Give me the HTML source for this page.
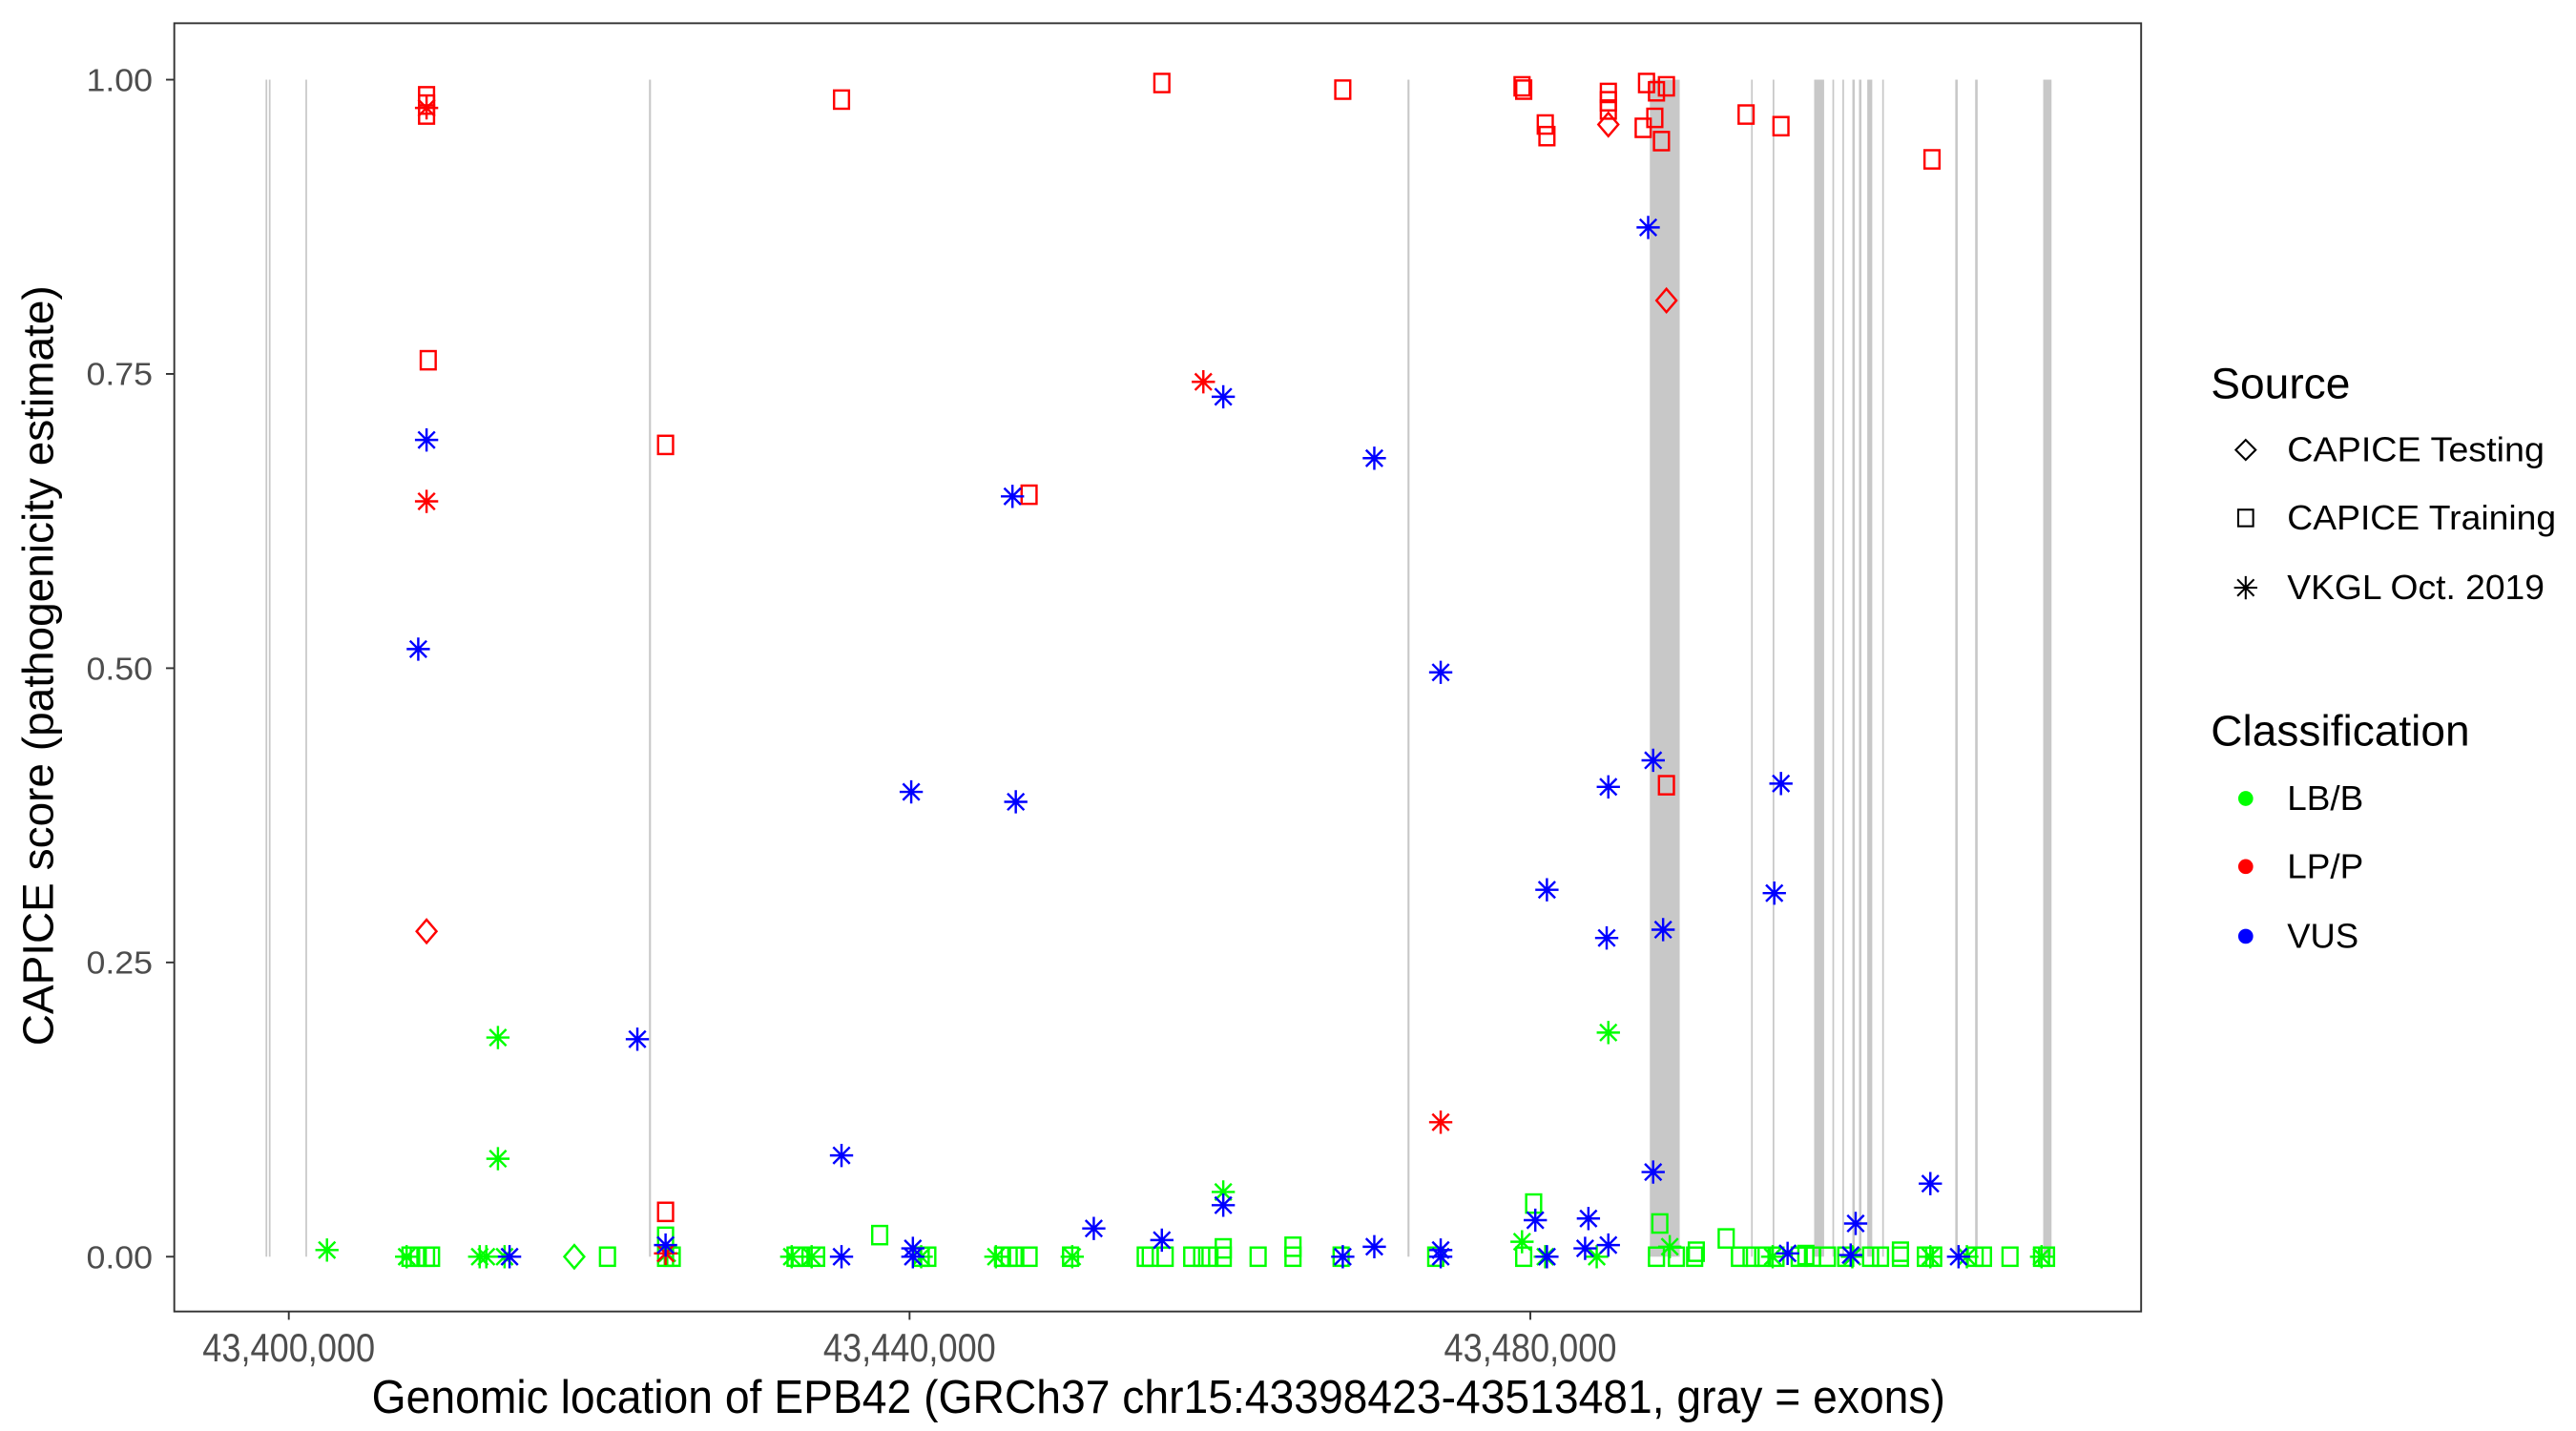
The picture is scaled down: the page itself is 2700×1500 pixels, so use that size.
<!DOCTYPE html>
<html><head><meta charset="utf-8"><style>html,body{margin:0;padding:0;background:#fff}svg{display:block}</style></head>
<body>
<svg id="s" width="2700" height="1500" viewBox="0 0 1552 862" preserveAspectRatio="none" xmlns="http://www.w3.org/2000/svg" font-family="Liberation Sans, Arial, sans-serif">
<rect x="0" y="0" width="1552" height="862" fill="#fff"/>
<g id="ex"></g>
<g id="pts"></g>
<rect x="105" y="14" width="1185" height="776" fill="none" stroke="#333" stroke-width="1.1"/>
<g stroke="#333" stroke-width="1.1">
<line x1="100" x2="105" y1="48" y2="48"/><line x1="100" x2="105" y1="225.25" y2="225.25"/><line x1="100" x2="105" y1="402.5" y2="402.5"/><line x1="100" x2="105" y1="579.75" y2="579.75"/><line x1="100" x2="105" y1="757" y2="757"/>
<line x1="174" x2="174" y1="790" y2="795"/><line x1="548" x2="548" y1="790" y2="795"/><line x1="922" x2="922" y1="790" y2="795"/>
</g>
<g fill="#4d4d4d" font-size="19" lengthAdjust="spacingAndGlyphs">
<text x="52" y="55" textLength="40" lengthAdjust="spacingAndGlyphs">1.00</text>
<text x="52" y="232" textLength="40" lengthAdjust="spacingAndGlyphs">0.75</text>
<text x="52" y="409.5" textLength="40" lengthAdjust="spacingAndGlyphs">0.50</text>
<text x="52" y="586.5" textLength="40" lengthAdjust="spacingAndGlyphs">0.25</text>
<text x="52" y="764" textLength="40" lengthAdjust="spacingAndGlyphs">0.00</text>
</g>
<g fill="#4d4d4d" font-size="24">
<text x="122" y="820" textLength="104" lengthAdjust="spacingAndGlyphs">43,400,000</text>
<text x="496" y="820" textLength="104" lengthAdjust="spacingAndGlyphs">43,440,000</text>
<text x="870" y="820" textLength="104" lengthAdjust="spacingAndGlyphs">43,480,000</text>
</g>
<text x="224" y="851" font-size="28" fill="#000" textLength="948" lengthAdjust="spacingAndGlyphs">Genomic location of EPB42 (GRCh37 chr15:43398423-43513481, gray = exons)</text>
<text transform="translate(32,401) rotate(-90)" x="-229" y="0" font-size="26" fill="#000" textLength="458" lengthAdjust="spacingAndGlyphs">CAPICE score (pathogenicity estimate)</text>
<text x="1332" y="240" font-size="26" fill="#000" textLength="84" lengthAdjust="spacingAndGlyphs">Source</text>
<g fill="none" stroke="#000" stroke-width="1.2">
<path d="M1353 265 L1359 271 L1353 277 L1347 271 Z"/>
<rect x="1348.5" y="307" width="9" height="10"/>
<path d="M1353 347 V361 M1346 354 H1360 M1348 349 L1358 359 M1358 349 L1348 359"/>
</g>
<g font-size="21" fill="#000">
<text x="1378" y="278" textLength="155" lengthAdjust="spacingAndGlyphs">CAPICE Testing</text>
<text x="1378" y="319" textLength="162" lengthAdjust="spacingAndGlyphs">CAPICE Training</text>
<text x="1378" y="361" textLength="155" lengthAdjust="spacingAndGlyphs">VKGL Oct. 2019</text>
</g>
<text x="1332" y="449" font-size="26" fill="#000" textLength="156" lengthAdjust="spacingAndGlyphs">Classification</text>
<circle cx="1353" cy="481" r="4.5" fill="#00ff00"/><circle cx="1353" cy="522" r="4.5" fill="#ff0000"/><circle cx="1353" cy="564" r="4.5" fill="#0000ff"/>
<g font-size="21" fill="#000">
<text x="1378" y="488" textLength="46" lengthAdjust="spacingAndGlyphs">LB/B</text>
<text x="1378" y="529" textLength="46" lengthAdjust="spacingAndGlyphs">LP/P</text>
<text x="1378" y="571" textLength="43" lengthAdjust="spacingAndGlyphs">VUS</text>
</g>
</svg>
<script>
var NS="http://www.w3.org/2000/svg";
function el(p,t,a){var e=document.createElementNS(NS,t);for(var k in a)e.setAttribute(k,a[k]);p.appendChild(e);return e;}
var ex=document.getElementById("ex");
[[160,1],[162,1],[184,1],[391,1.2],[848,1.2],[994,18],[1055,1],[1068,1],[1093,6],[1104,1],[1110,1],[1116,1.5],[1120,1.5],[1125,3],[1134,1],[1178,1.5],[1190,1.5],[1231,5]].forEach(function(e){
 el(ex,"rect",{x:e[0],y:48,width:e[1],height:709,fill:"#c8c8c8"});});
var P=document.getElementById("pts");
var C={g:"#00ff00",r:"#ff0000",b:"#0000ff"};
function sq(x,y,c){el(P,"rect",{x:x-4.5,y:y-5.5,width:9,height:11,fill:"none",stroke:C[c],"stroke-width":1.4});}
function di(x,y,c){el(P,"path",{d:"M"+x+" "+(y-7)+" L"+(x+6)+" "+y+" L"+x+" "+(y+7)+" L"+(x-6)+" "+y+"Z",fill:"none",stroke:C[c],"stroke-width":1.4});}
function st(x,y,c){var r=7,d=5;el(P,"path",{d:"M"+x+" "+(y-r)+"V"+(y+r)+"M"+(x-r)+" "+y+"H"+(x+r)+"M"+(x-d)+" "+(y-d)+"L"+(x+d)+" "+(y+d)+"M"+(x+d)+" "+(y-d)+"L"+(x-d)+" "+(y+d),fill:"none",stroke:C[c],"stroke-width":1.4});}
[247,252,257,260,366,401,405,479,482,492,555,559,604,608,612,620,645,690,693,702,718,724,729,737,758,779,808,865,918,998,1010,1021,1048,1055,1062,1070,1084,1092,1101,1112,1127,1133,1145,1160,1165,1190,1195,1211,1230,1233].forEach(function(x){sq(x,757,"g");});
[[530,744],[737,752],[779,751],[924,725],[1000,737],[1040,746],[1145,754],[1022,754],[401,745],[1088,756]].forEach(function(p){sq(p[0],p[1],"g");});
di(346,757,"g");
[[197,753],[245,757],[289,757],[293,757],[300,625],[300,698],[304,757],[402,755],[477,757],[489,757],[555,757],[600,757],[646,757],[737,718],[917,748],[931,757],[962,757],[969,622],[1006,751],[1068,757],[1116,757],[1163,757],[1185,757],[1230,757]].forEach(function(p){st(p[0],p[1],"g");});
[[257,58],[257,63],[257,69],[258,217],[401,268],[401,730],[507,60],[620,298],[700,50],[809,54],[917,52],[918,54],[931,75],[932,82],[969,56],[969,61],[969,66],[992,50],[997,71],[998,55],[1001,85],[1004,52],[1004,473],[1052,69],[1073,76],[1164,96],[990,77]].forEach(function(p){sq(p[0],p[1],"r");});
[[257,561],[969,75],[1004,181]].forEach(function(p){di(p[0],p[1],"r");});
[[257,65],[257,302],[725,230],[868,676],[401,755]].forEach(function(p){st(p[0],p[1],"r");});
[[252,391],[257,265],[384,626],[401,750],[507,696],[507,757],[549,477],[550,752],[550,757],[610,299],[612,483],[659,740],[700,747],[737,239],[737,726],[809,757],[828,276],[828,751],[868,405],[868,753],[868,757],[925,735],[932,536],[932,757],[957,734],[955,752],[969,474],[968,565],[969,750],[993,137],[996,458],[996,706],[1002,560],[1069,538],[1073,472],[1077,755],[1118,737],[1115,756],[1163,713],[1180,757],[307,757]].forEach(function(p){st(p[0],p[1],"b");});
</script>
</body></html>
